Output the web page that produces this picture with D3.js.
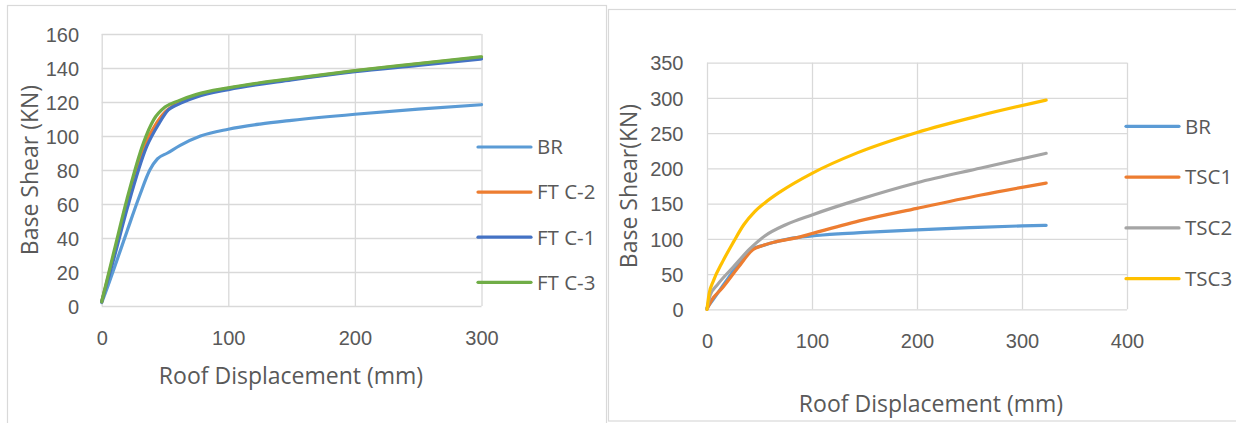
<!DOCTYPE html>
<html>
<head>
<meta charset="utf-8">
<script src="https://cdn.jsdelivr.net/npm/d3@7/dist/d3.min.js"></script>
<style>
  html, body { margin: 0; padding: 0; background: #fff; }
  svg { display: block; font-family: "Open Sans", "Noto Sans", sans-serif; }
</style>
</head>
<body>
<svg id="chart" width="1236" height="423"></svg>
<script>
// Pushover curves: [roof displacement (mm), base shear (kN)]
const BR     = [[0,2],[5,12],[10,22.5],[20,44],[30,65],[38,80],[44,86.5],[52,90],[62,94.5],[78,100],[100,104],[125,107],[150,109.2],[200,112.8],[250,115.8],[300,118.4],[323,119.2]];
const FT_C2  = [[0,2.5],[10,31],[20,60],[33,93],[42,106],[50,114],[55,117],[60,119.5],[75,124],[100,128],[150,133.5],[200,138.3],[250,142.4],[300,146.3]];
const FT_C1  = [[0,2.5],[10,29],[20,57],[35.5,93.7],[45,107],[52.6,115.3],[60,118.5],[75,123],[100,127.3],[150,133],[200,137.8],[250,141.5],[300,145.3]];
const FT_C3  = [[0,2.5],[10,33],[20,63],[33,96],[41,109.5],[50,117],[60,120.5],[75,124.5],[100,128.3],[125,131.3],[150,133.8],[200,138.5],[250,142.6],[300,146.6]];
const TSC1   = [[0,0],[4,12],[15,31],[30,60],[44,85],[52,90],[66,96],[88,102.5],[100,107.5],[145,125.5],[200,143.3],[261,162.2],[323,179.2]];
const TSC2   = [[0,0],[3,20],[10,35],[25,60],[41,86],[55,104],[75,120],[100,134],[145,156],[200,179.7],[261,200.5],[323,221.4]];
const TSC3   = [[0,0],[2,22],[6,40],[15,68],[25,95],[35,120],[45,138],[55,151],[70,167],[100,193],[143,222],[200,251],[260,275],[323,297]];

// Axis ticks
const leftXTicks  = [0, 100, 200, 300];
const leftYTicks  = [0, 20, 40, 60, 80, 100, 120, 140, 160];
const rightXTicks = [0, 100, 200, 300, 400];
const rightYTicks = [0, 50, 100, 150, 200, 250, 300, 350];

const leftSeries = [
  { name: "BR",     data: BR.filter(d => d[0] <= 300), color: "#5B9BD5" },
  { name: "FT C-2", data: FT_C2, color: "#ED7D31" },
  { name: "FT C-1", data: FT_C1, color: "#4472C4" },
  { name: "FT C-3", data: FT_C3, color: "#70AD47" }
];
const rightSeries = [
  { name: "BR",   data: BR,   color: "#5B9BD5" },
  { name: "TSC1", data: TSC1, color: "#ED7D31" },
  { name: "TSC2", data: TSC2, color: "#A5A5A5" },
  { name: "TSC3", data: TSC3, color: "#FFC000" }
];

const svg = d3.select("#chart");
const GRID = "#D9D9D9", TEXT = "#595959";

// chart frames
svg.append("rect").attr("x", 7.5).attr("y", 5.5).attr("width", 599).attr("height", 430)
  .attr("fill", "none").attr("stroke", GRID).attr("stroke-width", 1.2);
svg.append("rect").attr("x", 608.5).attr("y", 9.5).attr("width", 640).attr("height", 411.5)
  .attr("fill", "none").attr("stroke", GRID).attr("stroke-width", 1.2);

function drawChart(cfg) {
  const g = svg.append("g");
  const x = d3.scaleLinear().domain(cfg.xDomain).range(cfg.xRange);
  const y = d3.scaleLinear().domain(cfg.yDomain).range(cfg.yRange);

  // gridlines with tick labels
  const xAxis = d3.axisBottom(x).tickValues(cfg.xTicks).tickSize(0).tickFormat(d3.format("d"));
  const yAxis = d3.axisLeft(y).tickValues(cfg.yTicks).tickSize(cfg.xRange[0] - cfg.xRange[1]).tickFormat(d3.format("d"));

  const gx = g.append("g").attr("transform", `translate(0,${cfg.yRange[0]})`).call(xAxis);
  gx.select(".domain").remove();
  gx.selectAll(".tick line").attr("y2", cfg.yRange[1] - cfg.yRange[0])
    .attr("stroke", GRID).attr("stroke-width", 1.3);
  gx.selectAll(".tick text").attr("fill", TEXT).attr("font-size", 20)
    .attr("y", cfg.xLabelBase - cfg.yRange[0]).attr("dy", 0);

  const gy = g.append("g").attr("transform", `translate(${cfg.xRange[0]},0)`).call(yAxis);
  gy.select(".domain").remove();
  gy.selectAll(".tick line").attr("stroke", GRID).attr("stroke-width", 1.3);
  gy.selectAll(".tick text").attr("fill", TEXT).attr("font-size", 20)
    .attr("x", cfg.yLabelRight - cfg.xRange[0]).attr("dy", "0.36em").attr("text-anchor", "end");

  const line = d3.line().x(d => x(d[0])).y(d => y(d[1])).curve(d3.curveMonotoneX);
  cfg.series.forEach(s => {
    g.append("path").datum(s.data).attr("d", line)
      .attr("fill", "none").attr("stroke", s.color).attr("stroke-width", 3.2)
      .attr("stroke-linecap", "round").attr("stroke-linejoin", "round");
  });

  // legend
  cfg.series.forEach((s, i) => {
    const ly = cfg.legendY0 + i * cfg.legendStep;
    g.append("line").attr("x1", cfg.legendX).attr("x2", cfg.legendX + 53)
      .attr("y1", ly).attr("y2", ly).attr("stroke", s.color).attr("stroke-width", 3.2)
      .attr("stroke-linecap", "round");
    g.append("text").attr("x", cfg.legendX + 59).attr("y", ly).attr("dy", "0.36em")
      .attr("fill", TEXT).attr("font-size", 20.5).text(s.name);
  });

  // axis titles
  g.append("text").attr("x", cfg.xTitle[0]).attr("y", cfg.xTitle[1]).attr("text-anchor", "middle")
    .attr("fill", TEXT).attr("font-size", 23).text(cfg.xTitleText);
  g.append("text").attr("transform", `translate(${cfg.yTitle[0]},${cfg.yTitle[1]}) rotate(-90)`)
    .attr("text-anchor", "middle").attr("fill", TEXT).attr("font-size", 23).text(cfg.yTitleText);
}

drawChart({
  xDomain: [0, 300], xRange: [101.7, 481.5],
  yDomain: [0, 160], yRange: [306, 34],
  xTicks: leftXTicks, yTicks: leftYTicks,
  xLabelBase: 345, yLabelRight: 79,
  series: leftSeries,
  legendX: 478, legendY0: 147, legendStep: 45.1,
  xTitle: [291, 383.5], xTitleText: "Roof Displacement (mm)",
  yTitle: [37.5, 170], yTitleText: "Base Shear (KN)"
});

drawChart({
  xDomain: [0, 400], xRange: [707, 1127],
  yDomain: [0, 350], yRange: [309.3, 62.7],
  xTicks: rightXTicks, yTicks: rightYTicks,
  xLabelBase: 348.3, yLabelRight: 683.5,
  series: rightSeries,
  legendX: 1126, legendY0: 126.3, legendStep: 50.8,
  xTitle: [931, 412], xTitleText: "Roof Displacement (mm)",
  yTitle: [637, 186], yTitleText: "Base Shear(KN)"
});
</script>
</body>
</html>
